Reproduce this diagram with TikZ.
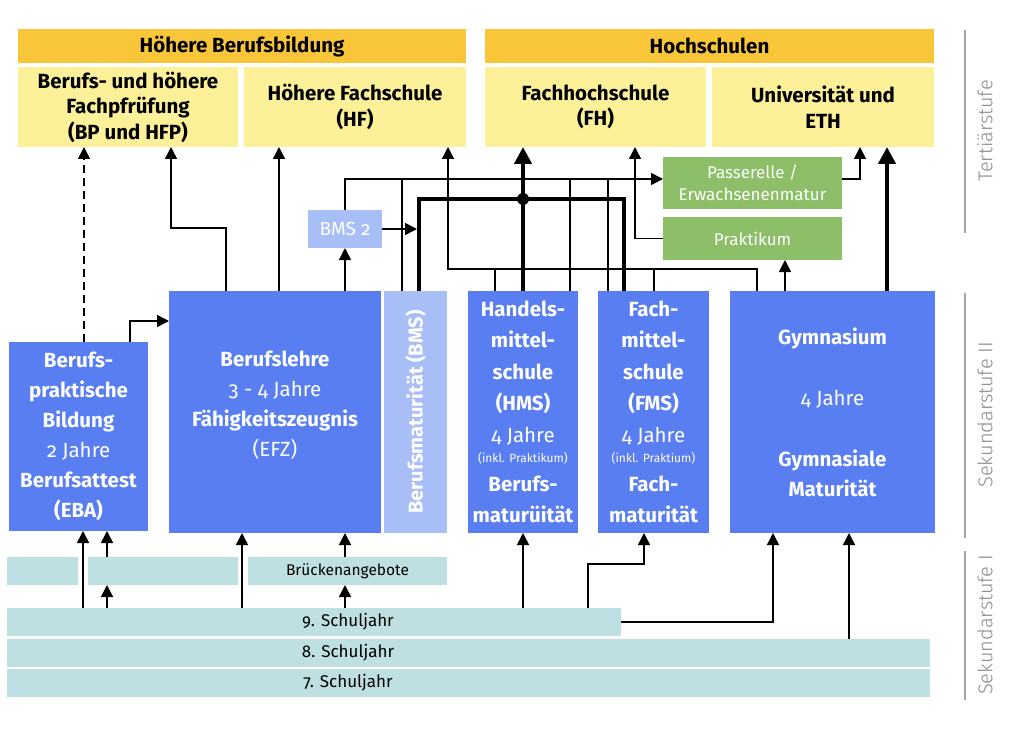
\documentclass[tikz,border=0pt]{standalone}
\usepackage{fontspec}
\setmainfont{Fira Sans}[Numbers=OldStyle]
\newfontfamily\lightfont{Fira Sans Light}[Numbers=OldStyle]
\usetikzlibrary{arrows.meta,calc}
\definecolor{cOrange}{RGB}{249,198,58}
\definecolor{cYellow}{RGB}{252,241,152}
\definecolor{cBlue}{RGB}{88,126,242}
\definecolor{cLBlue}{RGB}{168,190,246}
\definecolor{cGreen}{RGB}{140,191,104}
\definecolor{cTeal}{RGB}{190,224,227}
\definecolor{cGray}{RGB}{140,140,140}
\begin{document}
\begin{tikzpicture}[x=1pt,y=-1pt,
 bx/.style={anchor=north west, inner sep=0pt, outer sep=0pt, align=center},
 hdr/.style={bx, fill=cOrange, font=\bfseries\fontsize{20.5}{24}\selectfont},
 yel/.style={bx, fill=cYellow, font=\bfseries\fontsize{20.5}{25.5}\selectfont},
 blu/.style={bx, fill=cBlue, text=white, font=\bfseries\fontsize{20.5}{30}\selectfont},
 grn/.style={bx, fill=cGreen, text=white, font=\fontsize{17}{22}\selectfont},
 sch/.style={bx, fill=cTeal, font=\fontsize{17}{20}\selectfont},
 schtxt/.style={inner sep=0pt, font=\fontsize{17}{20}\selectfont},
 ln/.style={line width=1.5pt},
 arr/.style={ln, -{Triangle[length=12pt,width=12pt]}},
 tk/.style={line width=4.5pt},
 tkarr/.style={tk, -{Triangle[length=17pt,width=17pt]}},
 stage/.style={rotate=90, text=cGray, font=\lightfont\fontsize{20}{22}\selectfont, inner sep=0pt},
 sline/.style={cGray!80, line width=1.2pt}]
\fill[white] (0,0) rectangle (1024,735);
\useasboundingbox (0,0) rectangle (1024,735);
% Tertiary
\node[hdr, minimum width=448pt, minimum height=34pt] (hbb) at (18,29) {Höhere Berufsbildung};
\node[hdr, minimum width=449pt, minimum height=34pt] (hs) at (485,29) {Hochschulen};
\node[yel, minimum width=220pt, minimum height=80pt] (bp) at (18,67) {Berufs- und höhere\\Fachpfrüfung\\(BP und HFP)};
\node[yel, minimum width=222pt, minimum height=80pt] (hf) at (244,67) {Höhere Fachschule\\(HF)};
\node[yel, minimum width=221pt, minimum height=80pt] (fh) at (485,67) {Fachhochschule\\(FH)};
\node[yel, minimum width=222pt, minimum height=80pt] (uni) at (712,67) {Universität und\\ETH};
\node[grn, minimum width=179pt, minimum height=52pt] (pass) at (663,157) {Passerelle /\\Erwachsenenmatur};
\node[grn, minimum width=179pt, minimum height=43pt] (prak) at (663,217) {Praktikum};
\node[bx, fill=cLBlue, text=white, font=\fontsize{19}{22}\selectfont, minimum width=74pt, minimum height=38pt] (bms2) at (308,210) {BMS 2};
% Secondary II
\node[blu, minimum width=139pt, minimum height=189pt] (eba) at (9,342) {Berufs-\\praktische\\Bildung\\{\mdseries 2 Jahre}\\Berufsattest\\(EBA)};
\node[blu, minimum width=212pt, minimum height=242pt] (bl) at (169,291) {Berufslehre\\{\mdseries 3 - 4 Jahre}\\Fähigkeitszeugnis\\{\mdseries (EFZ)}\\[-14pt]\mbox{}};
\node[bx, fill=cLBlue, minimum width=63pt, minimum height=242pt] (bms) at (384,291) {};
\node[rotate=90, text=white, font=\bfseries\fontsize{20}{24}\selectfont, inner sep=0pt] (bmstxt) at (bms.center) {Berufsmaturität (BMS)};
\node[blu, font=\bfseries\fontsize{20.5}{31.5}\selectfont, minimum width=110pt, minimum height=242pt] (hms) at (468,291) {Handels-\\mittel-\\schule\\(HMS)\\{\mdseries 4 Jahre}\\[-11.5pt]{\mdseries\fontsize{12}{12}\selectfont (inkl. Praktikum)}\\[-2.5pt]Berufs-\\maturüität};
\node[blu, font=\bfseries\fontsize{20.5}{31.5}\selectfont, minimum width=111pt, minimum height=242pt] (fms) at (598,291) {Fach-\\mittel-\\schule\\(FMS)\\{\mdseries 4 Jahre}\\[-11.5pt]{\mdseries\fontsize{12}{12}\selectfont (inkl. Praktium)}\\[-2.5pt]Fach-\\maturität};
\node[blu, minimum width=205pt, minimum height=242pt] (gym) at (730,291) {Gymnasium\\[31pt]{\mdseries 4 Jahre}\\[31pt]Gymnasiale\\Maturität};
% Secondary I
\node[sch, minimum width=71pt, minimum height=28pt] (bk1) at (7,557) {};
\node[sch, minimum width=150pt, minimum height=28pt] (bk2) at (88,557) {};
\node[sch, font=\fontsize{15.5}{18}\selectfont, minimum width=199pt, minimum height=28pt] (bk3) at (248,557) {Brückenangebote};
\node[sch, minimum width=614pt, minimum height=28pt] (s9) at (7,608) {};
\node[sch, minimum width=923pt, minimum height=28pt] (s8) at (7,639) {};
\node[sch, minimum width=923pt, minimum height=28pt] (s7) at (7,669) {};
\node[schtxt] (s9t) at ($(s9.west)+(341,0)$) {9. Schuljahr};
\node[schtxt] (s8t) at ($(s8.west)+(341,0)$) {8. Schuljahr};
\node[schtxt] (s7t) at ($(s7.west)+(341,0)$) {7. Schuljahr};
% stage labels
\draw[sline] (965,30) -- (965,233);
\draw[sline] (965,293) -- (965,538);
\draw[sline] (965,551) -- (965,700);
\node[stage] (lt) at (985,131) {Tertiärstufe};
\node[stage] (l2) at (985,415) {Sekundarstufe II};
\node[stage] (l1) at (985,625) {Sekundarstufe I};
% upper connectors
\coordinate (d1) at ($(eba.north west)+(75,0)$);
\draw[arr, dash pattern=on 8pt off 5pt] (d1) -- (d1 |- bp.south);
\coordinate (e2) at ($(eba.north west)+(121,0)$);
\draw[arr] (e2) |- ($(bl.north west)+(0,30)$);
\coordinate (b1) at ($(bl.north west)+(57,0)$);
\draw[arr] (b1) -- ++(0,-63) -| ($(bp.south west)+(153,0)$);
\coordinate (b2) at ($(bl.north west)+(110,0)$);
\draw[arr] (b2) -- (b2 |- hf.south);
\coordinate (b3) at ($(bl.north west)+(176,0)$);
\draw[arr] (b3) -- (b3 |- bms2.south);
\coordinate (p1) at ($(pass.west)+(0,-4)$);
\draw[arr] (bms2.north) |- (p1);
\coordinate (m1) at ($(bms.north west)+(18,0)$);
\coordinate (m2) at ($(hms.north west)+(102,0)$);
\coordinate (m3) at ($(fms.north west)+(10,0)$);
\draw[ln] (m1) -- (m1 |- p1);
\draw[ln] (m2) -- (m2 |- p1);
\draw[ln] (m3) -- (m3 |- p1);
\coordinate (k) at ($(hf.south east)+(-18,122)$);
\coordinate (h1) at ($(hms.north west)+(27,0)$);
\coordinate (f1) at ($(fms.north west)+(56,0)$);
\coordinate (g1) at ($(gym.north west)+(27,0)$);
\draw[arr] (g1) |- (k) -- (k |- hf.south);
\draw[ln] (h1) -- (h1 |- k);
\draw[ln] (f1) -- (f1 |- k);
\draw[arr] (prak.west) -| ($(fh.south west)+(150,0)$);
\draw[arr] ($(pass.east)+(0,-4)$) -| ($(uni.south west)+(148,0)$);
\coordinate (g2) at ($(gym.north west)+(55,0)$);
\draw[arr] (g2) -- (g2 |- prak.south);
\coordinate (g3) at ($(gym.north west)+(157,0)$);
\draw[tkarr] (g3) -- (g3 |- uni.south);
% thick BMS path
\coordinate (t1) at ($(bms.north west)+(35,0)$);
\coordinate (t3) at ($(fms.north west)+(26,0)$);
\draw[tk] (t1) -- ++(0,-92) -| (t3);
\draw[arr] (bms2.east) -- ($(t1 |- bms2.east)+(-2,0)$);
\coordinate (t2) at ($(hms.north west)+(55,0)$);
\draw[tkarr] (t2) -- (t2 |- fh.south);
\coordinate (j) at ($(t2)+(0,-92)$);
\fill (j) circle (6pt);
% lower connectors
\coordinate (u1) at ($(s9.north west)+(76,0)$);
\draw[arr] (u1) -- (u1 |- eba.south);
\coordinate (u2) at ($(s9.north west)+(100,0)$);
\draw[arr] (u2) -- (u2 |- bk2.south);
\draw[arr] (u2 |- bk2.north) -- (u2 |- eba.south);
\coordinate (u3) at ($(s9.north west)+(235,0)$);
\draw[arr] (u3) -- (u3 |- bl.south);
\coordinate (u4) at ($(s9.north west)+(338,0)$);
\draw[arr] (u4) -- (u4 |- bk3.south);
\draw[arr] (u4 |- bk3.north) -- (u4 |- bl.south);
\coordinate (u5) at ($(s9.north west)+(516,0)$);
\draw[arr] (u5) -- (u5 |- hms.south);
\coordinate (u6) at ($(s9.north west)+(581,0)$);
\draw[arr] (u6) -- ++(0,-44) -| ($(fms.south west)+(46,0)$);
\draw[arr] (s9.east) -| ($(gym.south west)+(43,0)$);
\coordinate (u7) at ($(s8.north west)+(842,0)$);
\draw[arr] (u7) -- (u7 |- gym.south);
\end{tikzpicture}
\end{document}
